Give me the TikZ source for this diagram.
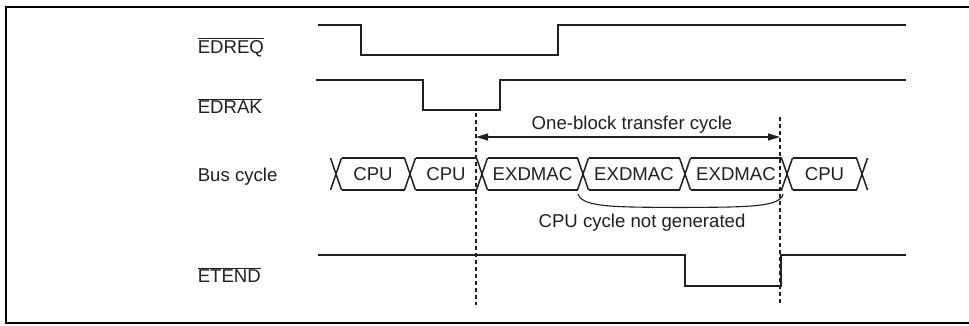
\documentclass[tikz,border=0pt]{standalone}
\usepackage{fontspec}
\setmainfont{Liberation Sans}
\usetikzlibrary{arrows.meta}
\definecolor{ink}{HTML}{231F20}
\tikzset{
  every picture/.style={line width=1.6pt, draw=ink, text=ink, font=\fontsize{18.6}{21}\selectfont},
  frame/.style={draw=black, line width=1.8pt},
  wave/.style={draw=ink, line width=2pt},
  cell/.style={draw=ink, line width=1.5pt},
  sig/.style={anchor=base west, inner sep=0pt},
  lbl/.style={inner sep=0pt},
  guide/.style={draw=ink, line width=1.1pt, dash pattern=on 4pt off 3pt},
  span/.style={{Triangle[length=12pt,width=7pt]}-{Triangle[length=12pt,width=7pt]}, draw=ink, line width=1.1pt},
  brace/.style={draw=ink, line width=1.1pt},
}

\begin{document}
\begin{tikzpicture}[x=1pt, y=-1pt]
\useasboundingbox (0,0) rectangle (969,325);
\draw[frame] (969,7) -- (6,7) -- (6,323) -- (969,323);
% signal names
\node[sig] (edreq) at (197,53) {$\overline{\hbox{EDREQ}}$};
\node[sig] (edrak) at (197,113) {$\overline{\hbox{EDRAK}}$};
\node[sig] (bus) at (197,181) {Bus cycle};
\node[sig] (etend) at (197,282) {$\overline{\hbox{ETEND}}$};
% waveforms
\draw[wave] (318,25) -- (361,25) -- (361,55) -- (558,55) -- (558,25) -- (906,25);
\draw[wave] (316,80) -- (423,80) -- (423,110) -- (500,110) -- (500,80) -- (906,80);
\draw[wave] (318,255) -- (685,255) -- (685,286) -- (781,286) -- (781,255) -- (906,255);
% block limits
\coordinate (blkL) at (476,113);
\coordinate (blkR) at (780,117);
\draw[guide] (blkL) -- (blkL |- 0,305);
\draw[guide] (blkR) -- (blkR |- 0,305);
\coordinate (spanL) at (blkL |- 0,137);
\coordinate (spanR) at (blkR |- 0,137);
\draw[span] (spanL) -- (spanR);
\node[lbl] (spanlbl) at (632,125) {One-block transfer cycle};
% bus cycles
\foreach \c in {336,410,482,583,685,787,862}
  \draw[cell] (\c-5.5,158) -- (\c+5.5,190) (\c-5.5,190) -- (\c+5.5,158);
\foreach \a/\b/\t/\n in {336/410/CPU/cpuA, 410/482/CPU/cpuB, 482/583/EXDMAC/dmaA,
    583/685/EXDMAC/dmaB, 685/787/EXDMAC/dmaC, 787/862/CPU/cpuC} {
  \draw[cell] (\a+5.5,158) -- (\b-5.5,158) (\a+5.5,190) -- (\b-5.5,190);
  \node[lbl] (\n) at ({(\a+\b)/2},174) {\t};
}
\draw[brace] (578,194) .. controls (582,208) and (620,207) .. (680,207.5)
  .. controls (740,207) and (781,208) .. (783,194);
\node[lbl] (nocpu) at (642,223) {CPU cycle not generated};
\end{tikzpicture}
\end{document}
